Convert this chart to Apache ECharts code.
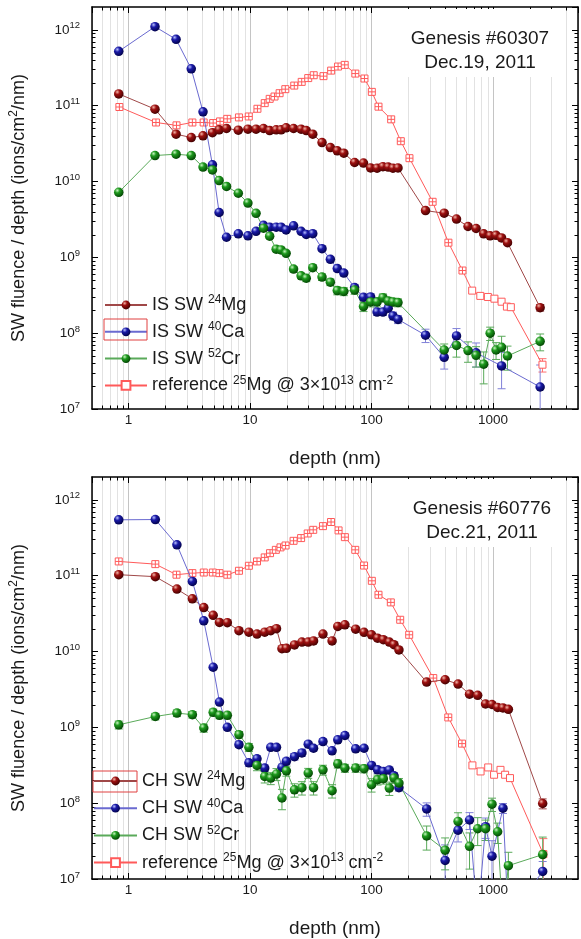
<!DOCTYPE html>
<html><head><meta charset="utf-8">
<script src="https://cdn.jsdelivr.net/npm/echarts@6/dist/echarts.min.js"></script>
<style>html,body{margin:0;padding:0;background:#fff}#c{width:581px;height:939px}</style>
</head><body><div id="c"></div>
<script>
// ---------------- DATA ----------------
// Top panel (IS, Genesis #60307)
const depthIS = [0.83,1.65,2.46,3.28,4.1,4.9,5.56,6.4,8.0,9.6,11.2,12.9,14.5,16.4,18.0,19.8,22.8,26.3,29.0,32.8,39.1,45.8,52.2,59.1,72.5,85.8,98.2,111,124,137,150,165,278,396,500,622,725,837,946,1058,1175,1314,2440];
const isMg = [1.43e11,9.0e10,4.2e10,3.8e10,4.0e10,4.4e10,4.8e10,5.0e10,4.75e10,4.9e10,4.9e10,5.0e10,4.7e10,4.8e10,4.8e10,5.1e10,5.0e10,4.9e10,4.7e10,4.2e10,3.26e10,2.8e10,2.54e10,2.36e10,1.78e10,1.75e10,1.51e10,1.5e10,1.57e10,1.55e10,1.5e10,1.51e10,4.13e9,3.82e9,3.2e9,2.55e9,2.4e9,2.04e9,1.92e9,1.95e9,1.8e9,1.56e9,2.17e8];
const isMgErr = [0.03,0.03,0.03,0.03,0.03,0.03,0.03,0.03,0.03,0.03,0.03,0.03,0.03,0.03,0.03,0.03,0.03,0.03,0.03,0.03,0.03,0.03,0.03,0.03,0.03,0.03,0.03,0.03,0.03,0.03,0.03,0.03,0.05,0.05,0.05,0.05,0.05,0.05,0.05,0.05,0.05,0.05,0.1];
const isCa = [5.2e11,1.1e12,7.5e11,3.06e11,8.3e10,1.66e10,3.9e9,1.84e9,2.04e9,1.92e9,2.2e9,2.65e9,2.5e9,2.5e9,2.5e9,2.3e9,2.6e9,2.2e9,2.0e9,2.05e9,1.3e9,9.4e8,7.1e8,6.2e8,4.0e8,2.97e8,3.0e8,1.9e8,1.9e8,2.13e8,1.69e8,1.52e8,9.4e7,4.8e7,9.2e7,null,5.5e7,null,null,null,3.7e7,null,1.95e7];
const isCaErr = [0.04,0.04,0.04,0.04,0.04,0.05,0.05,0.05,0.05,0.05,0.05,0.05,0.05,0.05,0.05,0.05,0.05,0.05,0.05,0.05,0.06,0.08,0.08,0.08,0.1,0.1,0.1,0.1,0.1,0.1,0.12,0.12,0.2,0.3,0.25,0,0.35,0,0,0,0.5,0,0.95];
const isCr = [7.2e9,2.2e10,2.29e10,2.2e10,1.55e10,1.42e10,1.03e10,8.6e9,7.0e9,5.2e9,3.8e9,2.42e9,1.9e9,1.28e9,1.25e9,1.13e9,7.0e8,5.7e8,5.3e8,7.3e8,5.5e8,4.7e8,3.64e8,3.55e8,3.7e8,2.24e8,2.58e8,2.58e8,2.94e8,2.65e8,2.58e8,2.53e8,null,6.0e7,6.9e7,5.9e7,5.1e7,3.9e7,1.0e8,6.0e7,6.5e7,5.0e7,7.8e7];
const isCrErr = [0.06,0.05,0.05,0.05,0.05,0.05,0.06,0.06,0.06,0.06,0.06,0.06,0.06,0.06,0.06,0.06,0.08,0.08,0.1,0.08,0.1,0.1,0.12,0.12,0.12,0.14,0.14,0.14,0.12,0.12,0.12,0.12,0,0.2,0.3,0.3,0.3,0.45,0.2,0.25,0.4,0.35,0.25];
const depthRefIS = [0.84,1.68,2.48,3.35,4.15,4.97,5.66,6.49,8.1,9.76,11.5,13.2,14.5,15.9,17.5,19.5,23.1,26.6,30.1,33.4,40.2,46.5,53.0,60.1,73.5,87.4,100.5,114,145,174,205,318,429,560,673,785,906,1026,1175,1300,1400,2550];
const refIS = [9.6e10,6.0e10,5.5e10,6.0e10,6.0e10,5.9e10,6.2e10,6.7e10,7.0e10,7.2e10,9.1e10,1.08e11,1.23e11,1.32e11,1.46e11,1.65e11,1.84e11,2.06e11,2.31e11,2.52e11,2.45e11,2.9e11,3.28e11,3.45e11,2.65e11,2.28e11,1.52e11,9.7e10,6.6e10,3.4e10,2.03e10,5.4e9,1.56e9,6.7e8,3.64e8,3.1e8,3.0e8,2.85e8,2.6e8,2.24e8,2.2e8,3.84e7];
const refISErr = [0,0,0,0,0,0,0,0,0,0,0,0,0,0,0,0,0,0,0,0,0,0,0,0,0,0,0,0,0,0,0,0,0,0,0,0,0,0,0,0,0,0.2];

// Bottom panel (CH, Genesis #60776)
const depthCH = [0.83,1.66,2.5,3.35,4.16,4.97,5.6,6.5,8.1,9.78,11.4,13.2,14.8,16.5,18.3,19.9,23.2,26.7,30.1,33.3,39.8,47.3,52.7,60.3,74,86.7,100,112,125,140,153,168,284,403,515,640,747,867,980,1090,1206,1336,2560];
const chMg = [1.03e11,9.7e10,6.65e10,4.95e10,3.8e10,3.0e10,2.42e10,2.4e10,1.88e10,1.8e10,1.7e10,1.8e10,1.88e10,2.0e10,1.09e10,1.1e10,1.22e10,1.33e10,1.33e10,1.38e10,1.7e10,1.38e10,2.14e10,2.25e10,1.97e10,1.79e10,1.66e10,1.5e10,1.43e10,1.33e10,1.23e10,1.05e10,3.95e9,4.24e9,3.72e9,2.74e9,2.64e9,2.03e9,2.0e9,1.83e9,1.8e9,1.73e9,9.9e7];
const chMgErr = [0.03,0.03,0.03,0.03,0.03,0.03,0.03,0.03,0.03,0.03,0.03,0.03,0.03,0.03,0.03,0.03,0.03,0.03,0.03,0.03,0.03,0.03,0.03,0.03,0.03,0.03,0.03,0.03,0.03,0.03,0.03,0.03,0.05,0.05,0.05,0.05,0.05,0.05,0.05,0.05,0.05,0.05,0.15];
const chCa = [5.45e11,5.5e11,2.55e11,8.4e10,2.54e10,6.2e9,2.15e9,1.0e9,5.9e8,3.4e8,3.85e8,2.9e8,5.45e8,5.45e8,2.97e8,3.56e8,4.1e8,4.6e8,6.0e8,5.3e8,6.5e8,4.9e8,6.85e8,7.8e8,5.2e8,5.3e8,3.15e8,2.75e8,2.62e8,2.73e8,2.3e8,1.6e8,8.4e7,1.76e7,4.4e7,6.0e7,3e6,4.9e7,2.0e7,null,8.6e7,3e6,1.26e7];
const chCaErr = [0.04,0.04,0.04,0.05,0.05,0.06,0.06,0.08,0.08,0.1,0.1,0.1,0.08,0.08,0.1,0.1,0.1,0.1,0.08,0.08,0.08,0.08,0.08,0.08,0.08,0.08,0.1,0.1,0.1,0.1,0.1,0.1,0.2,0.6,0.3,0.25,0,0.3,0.6,0,0.15,0,0.35];
const chCr = [1.08e9,1.39e9,1.54e9,1.47e9,9.8e8,1.58e9,1.44e9,1.44e9,8.0e8,5.45e8,3.15e8,2.25e8,2.14e8,2.42e8,1.17e8,2.67e8,1.5e8,1.6e8,2.5e8,1.6e8,2.75e8,1.46e8,3.3e8,2.9e8,2.9e8,2.85e8,1.75e8,2.04e8,2.1e8,1.58e8,2.14e8,1.84e8,3.7e7,2.4e7,5.75e7,2.7e7,4.6e7,4.6e7,9.7e7,4.2e7,3e6,1.5e7,2.1e7];
const chCrErr = [0.12,0.1,0.1,0.1,0.12,0.1,0.1,0.1,0.1,0.12,0.15,0.18,0.18,0.18,0.3,0.15,0.2,0.2,0.15,0.2,0.15,0.2,0.12,0.12,0.12,0.12,0.2,0.15,0.15,0.2,0.15,0.15,0.35,0.45,0.3,0.5,0.4,0.3,0.2,0.3,0,0.5,0.7];
const depthRefCH = [0.83,1.66,2.48,3.35,4.16,4.94,5.6,6.5,8.1,9.78,11.4,13.2,14.6,16.3,17.8,19.6,22.8,26.3,29.8,33.1,39.8,46.4,53.5,60.3,73.4,86.7,100.5,114,144,172,204,322,428,555,676,789,912,1019,1151,1256,1378,2594];
const refCH = [1.54e11,1.42e11,1.03e11,1.08e11,1.1e11,1.1e11,1.08e11,1.03e11,1.16e11,1.35e11,1.54e11,1.74e11,1.98e11,2.19e11,2.36e11,2.5e11,2.88e11,3.13e11,3.6e11,4.02e11,4.5e11,5.1e11,3.95e11,3.22e11,2.19e11,1.36e11,8.55e10,5.6e10,4.44e10,2.62e10,1.66e10,4.46e9,1.35e9,6.1e8,3.15e8,2.62e8,2.96e8,2.37e8,2.75e8,2.37e8,2.14e8,2.13e7];
const refCHErr = [0,0,0,0,0,0,0,0,0,0,0,0,0,0,0,0,0,0,0,0,0,0,0,0,0,0,0,0,0,0,0,0,0,0,0,0,0,0,0,0,0,0.6];

// Axis tick labels
const xTickValues = [1,10,100,1000];
const xTickLabels = ['1','10','100','1000'];
const yTickExps = [7,8,9,10,11,12];

// Text
const panelTitles = [['Genesis #60307','Dec.19, 2011'],['Genesis #60776','Dec.21, 2011']];
const legendNamesTop = ['IS SW 24Mg','IS SW 40Ca','IS SW 52Cr','reference IS'];
const legendNamesBot = ['CH SW 24Mg','CH SW 40Ca','CH SW 52Cr','reference CH'];
const legendLabels = {
  'IS SW 24Mg':'IS SW {s|24}Mg','IS SW 40Ca':'IS SW {s|40}Ca','IS SW 52Cr':'IS SW {s|52}Cr',
  'reference IS':'reference {s|25}Mg @ 3×10{s|13} cm{s|-2}',
  'CH SW 24Mg':'CH SW {s|24}Mg','CH SW 40Ca':'CH SW {s|40}Ca','CH SW 52Cr':'CH SW {s|52}Cr',
  'reference CH':'reference {s|25}Mg @ 3×10{s|13} cm{s|-2}'
};

// ---------------- CHART ----------------
const FONT = "'Liberation Sans', Arial, sans-serif";
const X_MIN = 0.5, X_MAX = 5000, Y_MIN = 1e7, Y_MAX = 2e12;
const TXT = '#1a1a1a';

function ball(c0,c1,c2){return {type:'radial',x:0.35,y:0.3,r:0.75,colorStops:[{offset:0,color:c0},{offset:0.35,color:c1},{offset:1,color:c2}]};}
const COL = {
  mg:{line:'#a04848', err:'#a04848', fill:ball('#f3b5a8','#9e1010','#3d0000')},
  ca:{line:'#6a6ad0', err:'#8080d8', fill:ball('#b8c0ff','#1a1aa8','#000045')},
  cr:{line:'#5aaa5a', err:'#5aaa5a', fill:ball('#c8f5c0','#1e9a1e','#004000')},
  ref:{line:'#ff5a5a', err:'#ff7070'}
};
const SQ = 'path://M0,0H10V10H0Z';
const SQX = 'path://M0,0H10V10H0Z M5,0V10 M0,5H10';

function pts(xs, ys){ const out=[]; xs.forEach((x,i)=>{ if(ys[i]!=null) out.push([x,ys[i]]); }); return out; }
function errPts(xs, ys, fs){ const out=[]; xs.forEach((x,i)=>{ if(ys[i]!=null && fs[i]>0){ const lo=Math.max(ys[i]*(1-fs[i]),1e3); out.push([x,ys[i],lo,ys[i]*(1+fs[i])]); } }); return out; }

function errRender(color){
  return function(params, api){
    const x=api.value(0), lo=api.value(2), hi=api.value(3);
    const p1=api.coord([x,hi]), p2=api.coord([x,lo]);
    const cs=params.coordSys, T=cs.y, B=cs.y+cs.height;
    const y1=Math.max(p1[1],T), y2=Math.min(p2[1],B);
    const st={stroke:color,lineWidth:1};
    const ch=[{type:'line',shape:{x1:p1[0],y1:y1,x2:p1[0],y2:y2},style:st}];
    if(p1[1]>=T) ch.push({type:'line',shape:{x1:p1[0]-4,y1:p1[1],x2:p1[0]+4,y2:p1[1]},style:st});
    if(p2[1]<=B) ch.push({type:'line',shape:{x1:p2[0]-4,y1:p2[1],x2:p2[0]+4,y2:p2[1]},style:st});
    return {type:'group',children:ch};
  };
}
function decoRender(params, api){
  const cs=params.coordSys, L=cs.x, R=cs.x+cs.width, T=cs.y, B=cs.y+cs.height;
  const ch=[];
  const ln=(x1,y1,x2,y2,c,w)=>({type:'line',shape:{x1,y1,x2,y2},style:{stroke:c,lineWidth:w||1}});
  for(let d=-1; d<=3; d++) for(let k=2;k<=9;k++){
    const v=k*Math.pow(10,d); if(v<=X_MIN||v>=X_MAX) continue;
    const x=Math.round(api.coord([v,1e9])[0])+0.5;
    ch.push(ln(x,T,x,B,'#e2e2e2'));
    ch.push(ln(x,B,x,B-3.5,'#000')); ch.push(ln(x,T,x,T+3.5,'#000'));
  }
  for(let d=7; d<=12; d++) for(let k=2;k<=9;k++){
    const v=k*Math.pow(10,d); if(v>=Y_MAX) continue;
    const y=Math.round(api.coord([1,v])[1])+0.5;
    ch.push(ln(L,y,L+3.5,y,'#000')); ch.push(ln(R,y,R-3.5,y,'#000'));
  }
  return {type:'group',children:ch,silent:true};
}

function xLabel(v){ const e=Math.log10(v); if(Math.abs(e-Math.round(e))>1e-6) return ''; const i=xTickValues.indexOf(Math.round(v)); return i>=0?xTickLabels[i]:''; }
function yLabel(v){ const e=Math.log10(v), r=Math.round(e); if(Math.abs(e-r)>1e-6 || yTickExps.indexOf(r)<0) return ''; return '{b|10}{s|'+r+'}'; }

const grids = [
  {left:82, top:7, width:496, height:402},
  {left:82, top:477, width:496, height:404}
];
const xAxes=[], yAxes=[];
grids.forEach((g,gi)=>{
  const base={gridIndex:gi,type:'log',logBase:10,min:X_MIN,max:X_MAX};
  xAxes.push(Object.assign({},base,{position:'bottom',
    axisLine:{show:true,onZero:false,lineStyle:{color:'#000',width:1.5}},
    axisTick:{show:true,inside:true,length:6,lineStyle:{color:'#000',width:1}},
    axisLabel:{show:true,formatter:xLabel,fontSize:13.5,fontFamily:FONT,color:TXT,margin:4,showMinLabel:false,showMaxLabel:false},
    splitLine:{show:true,lineStyle:{color:'#c4c4c4',width:1}},
    name:'depth (nm)',nameLocation:'middle',nameGap:40,nameTextStyle:{fontSize:19,fontFamily:FONT,color:TXT}}));
  xAxes.push(Object.assign({},base,{position:'top',
    axisLine:{show:true,onZero:false,lineStyle:{color:'#000',width:1.5}},
    axisTick:{show:true,inside:true,length:6,lineStyle:{color:'#000',width:1}},
    axisLabel:{show:false},splitLine:{show:false}}));
  const ybase={gridIndex:gi,type:'log',logBase:10,min:Y_MIN,max:Y_MAX};
  yAxes.push(Object.assign({},ybase,{position:'left',
    axisLine:{show:true,onZero:false,lineStyle:{color:'#000',width:1.5}},
    axisTick:{show:true,inside:true,length:6,lineStyle:{color:'#000',width:1}},
    axisLabel:{show:true,formatter:yLabel,margin:12,showMaxLabel:false,color:TXT,fontFamily:FONT,
      rich:{b:{fontSize:13.5,lineHeight:18,fontFamily:FONT,color:TXT},s:{fontSize:9.5,lineHeight:9.5,verticalAlign:'top',fontFamily:FONT,color:TXT}}},
    splitLine:{show:false},
    name:'{a|SW fluence / depth (ions/cm}{s|2}{a|/nm)}',nameLocation:'middle',nameGap:62,
    nameTextStyle:{color:TXT,fontFamily:FONT,rich:{a:{fontSize:18,lineHeight:22,fontFamily:FONT,color:TXT},s:{fontSize:12,lineHeight:12,verticalAlign:'top',fontFamily:FONT,color:TXT}}}}));
  yAxes.push(Object.assign({},ybase,{position:'right',
    axisLine:{show:true,onZero:false,lineStyle:{color:'#000',width:1.5}},
    axisTick:{show:true,inside:true,length:6,lineStyle:{color:'#000',width:1}},
    axisLabel:{show:false},splitLine:{show:false}}));
});

const series=[];
function addPanel(gi, names, depth, mg, mgE, ca, caE, cr, crE, dRef, ref, refE){
  const xi=gi*2, yi=gi*2;
  series.push({type:'custom',xAxisIndex:xi,yAxisIndex:yi,data:[[1,1e9]],renderItem:decoRender,z:1,silent:true,encode:{x:0,y:1}});
  const eb=(data,color)=>({type:'custom',xAxisIndex:xi,yAxisIndex:yi,data,renderItem:errRender(color),z:2,silent:true,encode:{x:0,y:1}});
  series.push(eb(errPts(dRef,ref,refE),COL.ref.err));
  series.push(eb(errPts(depth,mg,mgE),COL.mg.err));
  series.push(eb(errPts(depth,ca,caE),COL.ca.err));
  series.push(eb(errPts(depth,cr,crE),COL.cr.err));
  const refData = pts(dRef,ref).map(p=>({value:p,symbol:p[0]<600?SQX:SQ}));
  series.push({type:'line',name:names[3],xAxisIndex:xi,yAxisIndex:yi,data:refData,symbol:SQ,symbolSize:7,
    itemStyle:{color:'#fff',borderColor:COL.ref.line,borderWidth:1},lineStyle:{color:COL.ref.line,width:1},z:3,clip:true});
  const ballS=(name,data,c)=>({type:'line',name,xAxisIndex:xi,yAxisIndex:yi,data,symbol:'circle',symbolSize:9.5,
    itemStyle:{color:c.fill,borderWidth:0},lineStyle:{color:c.line,width:1},z:4,clip:true});
  series.push(ballS(names[0],pts(depth,mg),COL.mg));
  series.push(ballS(names[1],pts(depth,ca),COL.ca));
  series.push(ballS(names[2],pts(depth,cr),COL.cr));
}
addPanel(0, legendNamesTop, depthIS, isMg, isMgErr, isCa, isCaErr, isCr, isCrErr, depthRefIS, refIS, refISErr);
addPanel(1, legendNamesBot, depthCH, chMg, chMgErr, chCa, chCaErr, chCr, chCrErr, depthRefCH, refCH, refCHErr);

const legendText = {fontSize:18,lineHeight:22,fontFamily:FONT,color:TXT,
  rich:{s:{fontSize:12,lineHeight:12,verticalAlign:'top',fontFamily:FONT,color:TXT}}};
const legends=[
  {left:104,top:294,orient:'vertical',itemWidth:42,itemHeight:11,itemGap:4.8,data:legendNamesTop,selectedMode:false,
   formatter:n=>legendLabels[n],textStyle:legendText,padding:0},
  {left:93,top:770,orient:'vertical',itemWidth:43,itemHeight:11,itemGap:5.2,data:legendNamesBot,selectedMode:false,
   formatter:n=>legendLabels[n],textStyle:legendText,padding:0}
];

const tStyle = t => ({text:t,fontSize:19,fontFamily:FONT,fill:TXT,align:'center',verticalAlign:'middle'});
const graphic=[
  {type:'rect',z:50,shape:{x:405,y:9,width:152,height:68},style:{fill:'#fff'}},
  {type:'rect',z:50,shape:{x:407,y:479,width:152,height:68},style:{fill:'#fff'}},
  {type:'text',z:51,x:480,y:39,style:tStyle(panelTitles[0][0])},
  {type:'text',z:51,x:480,y:63,style:tStyle(panelTitles[0][1])},
  {type:'text',z:51,x:482,y:509,style:tStyle(panelTitles[1][0])},
  {type:'text',z:51,x:482,y:533,style:tStyle(panelTitles[1][1])},
  {type:'rect',z:51,shape:{x:104,y:319,width:43,height:21},style:{fill:'none',stroke:'#e04040',lineWidth:1}},
  {type:'rect',z:51,shape:{x:93,y:771,width:44,height:21},style:{fill:'none',stroke:'#e04040',lineWidth:1}}
];

const chart=echarts.init(document.getElementById('c'),null,{renderer:'canvas'});
chart.setOption({animation:false,backgroundColor:'#fff',grid:grids,xAxis:xAxes,yAxis:yAxes,series,legend:legends,graphic});
</script></body></html>
